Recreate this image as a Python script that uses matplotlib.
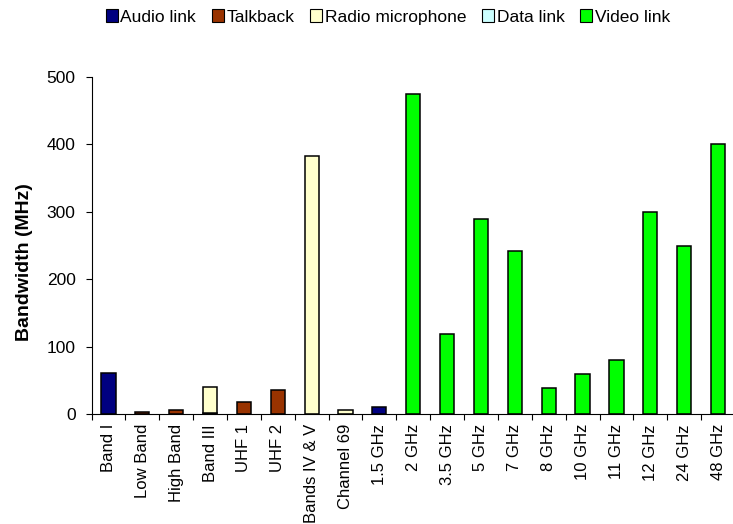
import matplotlib.pyplot as plt
import numpy as np

plt.rcParams['font.family'] = ['Liberation Sans', 'DejaVu Sans']

bands = ['Band I', 'Low Band', 'High Band', 'Band III', 'UHF 1', 'UHF 2',
         'Bands IV & V', 'Channel 69', '1.5 GHz', '2 GHz', '3.5 GHz', '5 GHz',
         '7 GHz', '8 GHz', '10 GHz', '11 GHz', '12 GHz', '24 GHz', '48 GHz']

audio = [61, 0, 0, 0, 0, 0, 0, 0, 11, 0, 0, 0, 0, 0, 0, 0, 0, 0, 0]
talkback = [0, 4, 6, 1.5, 18, 36, 0, 0, 0, 0, 0, 0, 0, 0, 0, 0, 0, 0, 0]
radio_mic = [0, 0, 0, 39, 0, 0, 383, 7, 0, 0, 0, 0, 0, 0, 0, 0, 0, 0, 0]
data_link = [0] * 19
video = [0, 0, 0, 0, 0, 0, 0, 0, 0, 475, 119, 290, 242, 39, 60, 80, 300, 250, 400]

series = [('Audio link', audio, '#000080'),
          ('Talkback', talkback, '#993300'),
          ('Radio microphone', radio_mic, '#FFFFCC'),
          ('Data link', data_link, '#CCFFFF'),
          ('Video link', video, '#00FF00')]

fig = plt.figure(figsize=(7.33, 5.24), dpi=100)
ax = fig.add_axes([91.5 / 733, 1 - 414.3 / 524, (735 - 91.5) / 733, (414.3 - 77) / 524])

x = np.arange(len(bands))
bottom = np.zeros(len(bands))
handles = []
for name, vals, col in series:
    vals = np.array(vals, dtype=float)
    mask = vals > 0
    ax.bar(x[mask], vals[mask], width=0.42, bottom=bottom[mask], color=col,
           edgecolor='black', linewidth=1.1)
    bottom += vals
    handles.append(plt.Rectangle((0, 0), 1, 1, facecolor=col, edgecolor='black', linewidth=0.8))

ax.set_xlim(-0.5, len(bands) - 0.5)
ax.set_ylim(0, 500)
ax.set_yticks(range(0, 501, 100))
ax.tick_params(axis='y', labelsize=12.5, length=4.5, width=0.8, direction='out', pad=7)

# category labels in the middle, tick marks between the categories
ax.set_xticks(x)
ax.set_xticklabels(bands, rotation=90, fontsize=12)
ax.tick_params(axis='x', which='major', length=0, pad=7)
ax.set_xticks(np.arange(-0.5, len(bands), 1), minor=True)
ax.tick_params(axis='x', which='minor', length=4, width=0.8, direction='out')

ax.spines['top'].set_visible(False)
ax.spines['right'].set_visible(False)
ax.set_ylabel('Bandwidth (MHz)', fontsize=14, fontweight='bold')
ax.yaxis.set_label_coords(33 / 733, 0.5, transform=fig.transFigure)

fig.legend(handles, [s[0] for s in series], loc='center', bbox_to_anchor=(388 / 733, 1 - 17 / 524),
           ncol=5, frameon=False, fontsize=12.5, handlelength=0.7, handleheight=0.7,
           handletextpad=0.15, columnspacing=0.9, borderaxespad=0)

fig.savefig('out.png', dpi=100)
